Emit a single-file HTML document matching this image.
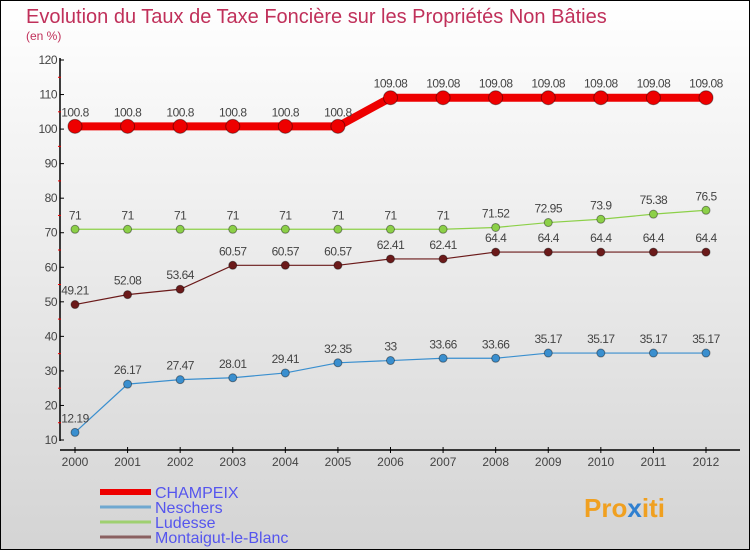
<!DOCTYPE html>
<html><head><meta charset="utf-8"><style>
body{margin:0}
svg text{font-family:"Liberation Sans",sans-serif}
</style></head><body>
<svg width="750" height="550" xmlns="http://www.w3.org/2000/svg">
<defs><linearGradient id="bg" x1="0" y1="0" x2="0" y2="1"><stop offset="0" stop-color="#ffffff"/><stop offset="1" stop-color="#d4d4d4"/></linearGradient></defs>
<rect x="0.5" y="0.5" width="749" height="549" fill="url(#bg)" stroke="#000"/>
<text x="26" y="23" font-size="20" fill="#c0305a">Evolution du Taux de Taxe Foncière sur les Propriétés Non Bâties</text>
<text x="26" y="40" font-size="12" fill="#c0305a">(en %)</text>
<g id="axes"></g>
<g id="series"></g>
<g id="legend"></g>
<text x="584" y="517" font-size="26" font-weight="bold" fill="#f0a020">Pro<tspan fill="#3080d0">x</tspan>iti</text>
</svg>
<script>
const years=[2000,2001,2002,2003,2004,2005,2006,2007,2008,2009,2010,2011,2012];
const yTicks=[10,20,30,40,50,60,70,80,90,100,110,120];
const champeix=[100.8,100.8,100.8,100.8,100.8,100.8,109.08,109.08,109.08,109.08,109.08,109.08,109.08];
const neschers=[12.19,26.17,27.47,28.01,29.41,32.35,33,33.66,33.66,35.17,35.17,35.17,35.17];
const ludesse=[71,71,71,71,71,71,71,71,71.52,72.95,73.9,75.38,76.5];
const montaigut=[49.21,52.08,53.64,60.57,60.57,60.57,62.41,62.41,64.4,64.4,64.4,64.4,64.4];
const NS="http://www.w3.org/2000/svg";
const X=i=>75+i*(706-75)/(years.length-1);
const Y=v=>440-(v-10)*(380/110);
function mk(tag,attrs,parent,txt){const e=document.createElementNS(NS,tag);for(const k in attrs)e.setAttribute(k,attrs[k]);if(txt!==undefined)e.textContent=txt;parent.appendChild(e);return e;}
const axes=document.getElementById('axes');
let e=mk('line',{x1:60,y1:58,x2:60,y2:441,stroke:'#000','stroke-width':1.5},axes);

e=mk('line',{x1:60,y1:450,x2:740,y2:450,stroke:'#000','stroke-width':1.5},axes);

yTicks.forEach(t=>{const y=Y(t);
 mk('line',{x1:60,y1:y,x2:64,y2:y,stroke:'#000'},axes);
 if(t<120)mk('line',{x1:58,y1:Y(t+5),x2:61,y2:Y(t+5),stroke:'#e00'},axes);
 e=mk('text',{x:57,y:y+4,'font-size':12,'text-anchor':'end',fill:'#444','letter-spacing':'-0.5'},axes,t);
 });
years.forEach((yr,i)=>{const x=X(i);
 mk('line',{x1:x,y1:447,x2:x,y2:453,stroke:'#000'},axes);
 e=mk('text',{x:x,y:466,'font-size':12,'text-anchor':'middle',fill:'#444'},axes,yr);
 });
const sg=document.getElementById('series');
function series(name,data,color,w,r){
 const g=mk('g',{},sg);
 e=mk('polyline',{points:data.map((v,i)=>X(i)+','+Y(v)).join(' '),fill:'none',stroke:color,'stroke-width':w},g);
 
 data.forEach((v,i)=>{e=mk('circle',{cx:X(i),cy:Y(v),r:r,fill:color,stroke:'rgba(0,0,0,0.4)','stroke-width':1},g);
  
  e=mk('text',{x:X(i),y:Y(v)-10,'font-size':12,'text-anchor':'middle',fill:'#444','letter-spacing':'-0.5'},g,String(v));
  });
}
series('neschers',neschers,'#3a8fcf',1.2,4);
series('montaigut',montaigut,'#6b1a1a',1.2,4);
series('ludesse',ludesse,'#8cd048',1.2,4);
series('champeix',champeix,'#ee0000',8,7);
const lg=document.getElementById('legend');
const items=[['CHAMPEIX','#ee0000',6],['Neschers','#6fa8d0',3],['Ludesse','#9fd070',3],['Montaigut-le-Blanc','#8a6060',3]];
items.forEach((it,k)=>{const y=492+k*15;
 e=mk('line',{x1:100,y1:y,x2:151,y2:y,stroke:it[1],'stroke-width':it[2]},lg);
 
 e=mk('text',{x:155,y:y+6,'font-size':16,fill:'#5555ee'},lg,it[0]);
 });
</script>
</body></html>
